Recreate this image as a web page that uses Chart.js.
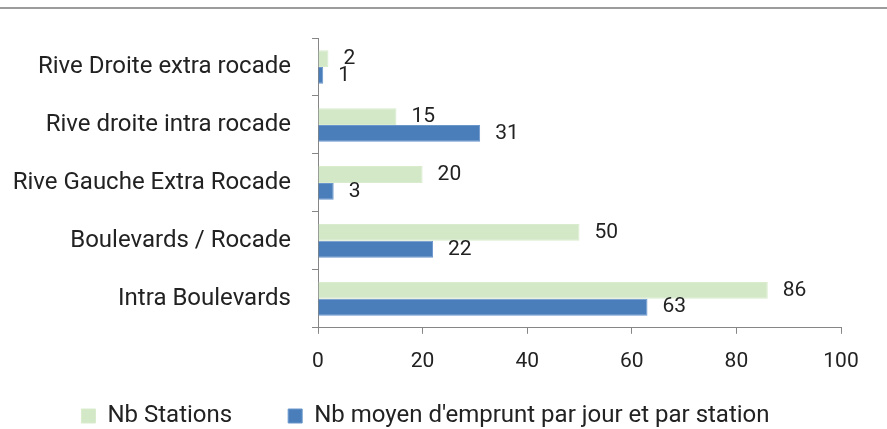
<!DOCTYPE html>
<html>
<head>
<meta charset="utf-8">
<script src="https://cdn.jsdelivr.net/npm/chart.js@4"></script>
<style>
  html, body { margin: 0; padding: 0; background: #fff; }
  #wrap { position: relative; width: 887px; height: 429px; }
  #topLine { position: absolute; left: 0; top: 7px; width: 887px; height: 2px; background: #9c9c9c; }
</style>
</head>
<body>
<div id="wrap">
  <div id="topLine"></div>
  <canvas id="chart"></canvas>
</div>
<script>
// catégories du haut vers le bas
const categories = [
  'Rive Droite extra rocade',
  'Rive droite intra rocade',
  'Rive Gauche Extra Rocade',
  'Boulevards / Rocade',
  'Intra Boulevards'
];
const nbStations = [2, 15, 20, 50, 86];
const nbEmprunts = [1, 31, 3, 22, 63];
const xTicks = [0, 20, 40, 60, 80, 100];

const FONT = 'Roboto';
const TEXT_SIZE = 24;
const LEGEND_SIZE = 24;
const NUM_SIZE = 21;
const textColor = '#222222';
const axisColor = '#868686';

// étiquettes de valeur à droite des barres
const valueLabels = {
  id: 'valueLabels',
  afterDatasetsDraw(chart) {
    const ctx = chart.ctx;
    ctx.save();
    ctx.font = `${NUM_SIZE}px ${FONT}`;
    ctx.fillStyle = textColor;
    ctx.textAlign = 'left';
    ctx.textBaseline = 'middle';
    chart.data.datasets.forEach((ds, i) => {
      chart.getDatasetMeta(i).data.forEach((bar, j) => {
        ctx.fillText(String(ds.data[j]), bar.x + 15, bar.y);
      });
    });
    ctx.restore();
  }
};

// la légende est remontée après le placement (espacement horizontal large)
const legendShift = {
  id: 'legendShift',
  afterLayout(chart) {
    const lg = chart.legend;
    const dy = 348 - lg.top;
    lg.top += dy;
    lg.bottom += dy;
  }
};

const ctx = document.getElementById('chart').getContext('2d');
new Chart(ctx, {
  type: 'bar',
  data: {
    labels: categories,
    datasets: [
      {
        label: 'Nb Stations',
        data: nbStations,
        backgroundColor: '#d3e8c7',
        borderColor: '#d9ecce',
        borderWidth: 1
      },
      {
        label: "Nb moyen d'emprunt par jour et par station",
        data: nbEmprunts,
        backgroundColor: '#4a7ebb',
        borderColor: '#6b96cc',
        borderWidth: 1
      }
    ]
  },
  options: {
    indexAxis: 'y',
    responsive: true,
    maintainAspectRatio: false,
    animation: false,
    categoryPercentage: 0.58,
    barPercentage: 1,
    layout: { padding: { top: 38, left: 10, right: 46, bottom: -50 } },
    scales: {
      x: {
        min: 0,
        max: 100,
        afterBuildTicks: (scale) => { scale.ticks = xTicks.map(v => ({ value: v })); },
        ticks: { color: textColor, font: { family: FONT, size: NUM_SIZE }, padding: 15 },
        grid: { drawOnChartArea: false, tickLength: 6, color: axisColor },
        border: { color: axisColor, width: 1 }
      },
      y: {
        afterFit: (scale) => { scale.width = 308; },
        ticks: { color: textColor, font: { family: FONT, size: TEXT_SIZE }, padding: 21 },
        grid: { offset: true, drawOnChartArea: false, tickLength: 6, color: axisColor },
        border: { color: axisColor, width: 1 }
      }
    },
    plugins: {
      legend: {
        position: 'bottom',
        labels: {
          boxWidth: 14,
          boxHeight: 14,
          padding: 56,
          color: textColor,
          font: { family: FONT, size: LEGEND_SIZE }
        }
      },
      tooltip: { enabled: false }
    }
  },
  plugins: [valueLabels, legendShift]
});
</script>
</body>
</html>
